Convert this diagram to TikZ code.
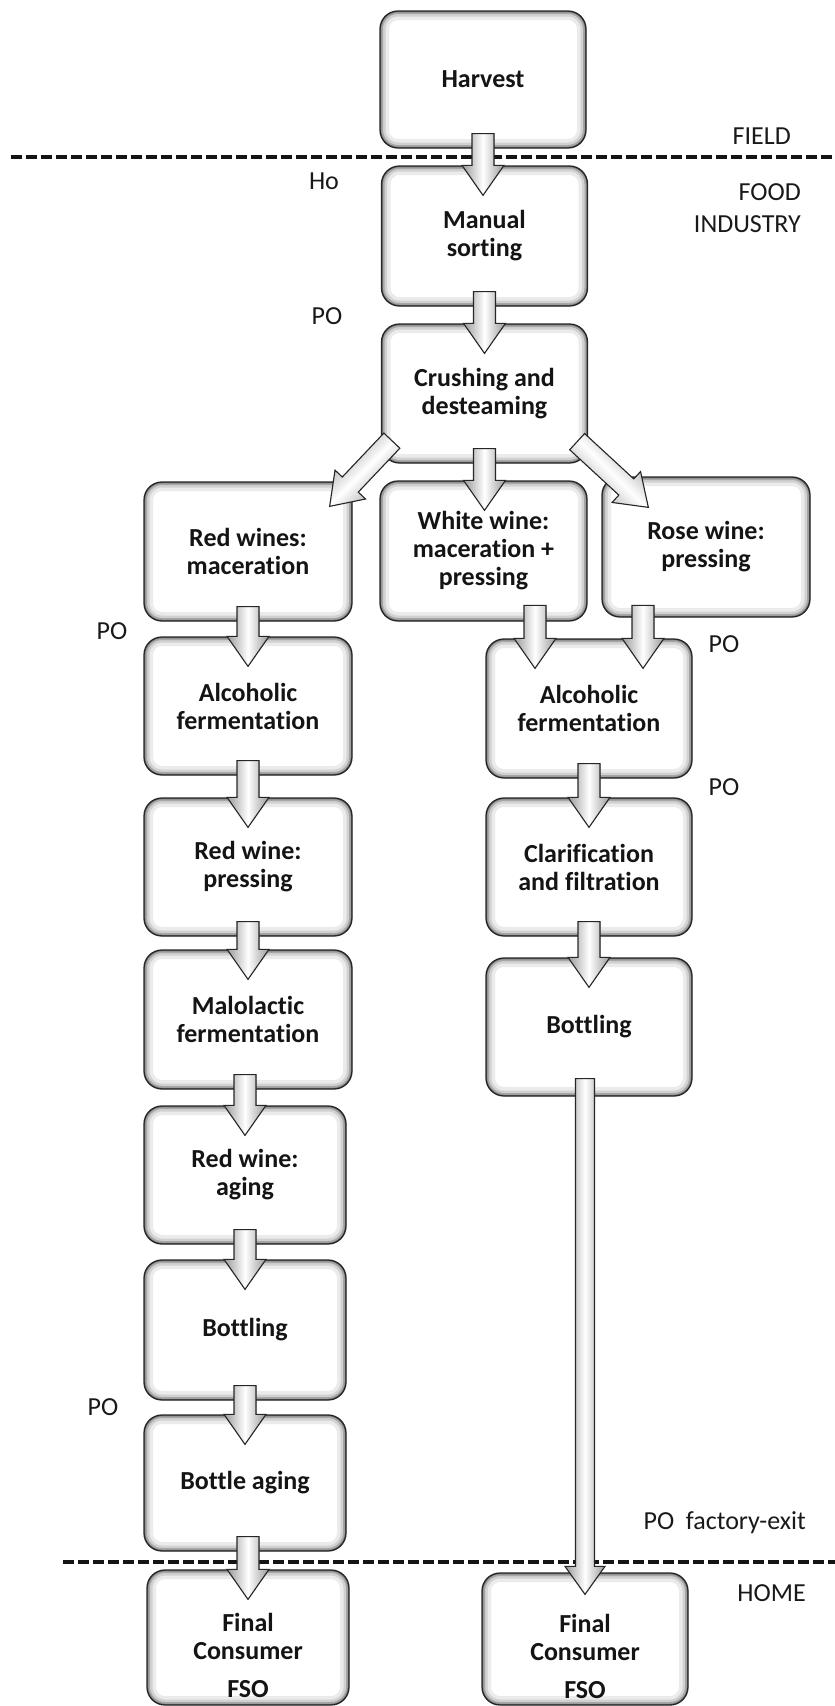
\documentclass[tikz,border=0pt]{standalone}
\usepackage{fontspec}
\setmainfont{Carlito}[Ligatures=NoCommon]
\usetikzlibrary{calc}

% hollow block arrow: #1 extra style, #2 tail point, #3 tip point,
% #4 shaft half width, #5 head half width, #6 head length
\newcommand\blockflow[6]{%
  \path #2 coordinate (bf-t) #3 coordinate (bf-h);
  \coordinate (bf-b) at ($(bf-h)!#6pt!(bf-t)$);
  \filldraw[flow,#1]
    ($(bf-t)!#4pt!90:(bf-h)$) -- ($(bf-b)!#4pt!90:(bf-h)$) --
    ($(bf-b)!#5pt!90:(bf-h)$) -- (bf-h) --
    ($(bf-b)!#5pt!-90:(bf-h)$) -- ($(bf-b)!#4pt!-90:(bf-h)$) --
    ($(bf-t)!#4pt!-90:(bf-h)$) -- cycle;
}
% straight downward arrow from one stage into the next
\newcommand\downflow[3][0]{%
  \blockflow{}{($(#2.south)+(#1,-15)$)}{($(#2.south |- #3.north)+(#1,30)$)}{11}{21}{30}}

\tikzset{
  bevel/.style={draw=#1, rounded corners=18pt},
  stage/.style={rounded corners=18pt, draw=black!85, line width=1.3pt, fill=white,
    minimum width=206pt, minimum height=138pt, inner sep=0pt, align=center,
    font=\fontsize{26}{28}\selectfont\bfseries, text=black!92,
    path picture={
      \draw[bevel=black!8, line width=18pt] (path picture bounding box.south west) rectangle (path picture bounding box.north east);
      \draw[bevel=black!18, line width=11pt] (path picture bounding box.south west) rectangle (path picture bounding box.north east);
      \draw[bevel=black!35, line width=6pt] (path picture bounding box.south west) rectangle (path picture bounding box.north east);
      \draw[bevel=black!55, line width=2.5pt] (path picture bounding box.south west) rectangle (path picture bounding box.north east);
    }},
  stagetext/.style={align=center, inner sep=0pt, font=\fontsize{26}{28}\selectfont\bfseries, text=black!92},
  zone/.style={font=\fontsize{26}{32}\selectfont, text=black!90, inner sep=0pt},
  boundary/.style={line width=3.2pt, dash pattern=on 11pt off 4pt, black!92},
  flow/.style={draw=black!85, line width=1.1pt, left color=black!40, right color=black!40, middle color=white},
}

\begin{document}
\begin{tikzpicture}[x=1pt,y=-1pt]
\useasboundingbox (0,0) rectangle (835,1706);

% zone boundaries
\coordinate (fieldL) at (11,157);
\coordinate (fieldR) at (835,157);
\coordinate (homeL) at (63,1562);
\coordinate (homeR) at (835,1562);
\draw[boundary] (fieldL) -- (fieldR);
\draw[boundary] (homeL) -- (homeR);

% common trunk
\node[stage, minimum height=137pt] (harvest) at (483,79.5) {Harvest};
\node[stage, minimum height=140pt] (manual) at (484.5,236) {Manual\\sorting};
\node[stage, minimum height=139pt] (crush) at (484.5,393.5) {Crushing and\\desteaming};

% three branches
\node[stage, minimum width=208pt, minimum height=139pt] (redmac) at (248,551.5) {Red wines:\\maceration};
\node[stage, minimum width=207pt, minimum height=140pt] (white) at (483.5,551) {White wine:\\maceration +\\pressing};
\node[stage, minimum width=208pt, minimum height=140pt] (rose) at (706,547) {Rose wine:\\pressing};

% red wine line
\node[stage, minimum width=208pt] (alcL) at (248,706) {Alcoholic\\fermentation};
\node[stage, minimum width=208pt] (presL) at (248,867) {Red wine:\\pressing};
\node[stage, minimum width=208pt, minimum height=139pt] (maloL) at (248,1019.5) {Malolactic\\fermentation};
\node[stage, minimum width=202pt] (agingL) at (245,1175) {Red wine:\\aging};
\node[stage, minimum width=202pt, minimum height=140pt] (bottL) at (245,1330) {Bottling};
\node[stage, minimum width=202pt, minimum height=136pt] (bagingL) at (245,1483) {Bottle aging};
\node[stage, minimum width=202pt, minimum height=135pt] (finL) at (248,1637.5) {};
\node[stagetext] (finLtext) at ($(finL.north)+(0,86)$) {Final\\Consumer\\[10pt]FSO};

% white and rose line
\node[stage, minimum height=139pt] (alcR) at (589,708.5) {Alcoholic\\fermentation};
\node[stage] (clarR) at (589,867) {Clarification\\and filtration};
\node[stage] (bottR) at (589,1027) {Bottling};
\node[stage, minimum width=206pt, minimum height=132pt] (finR) at (585,1639) {};
\node[stagetext] (finRtext) at ($(finR.north)+(0,84)$) {Final\\Consumer\\[10pt]FSO};

% zone names and observation points
\node[zone, anchor=east] (field) at (791,136) {FIELD};
\node[zone, anchor=east, align=right] (food) at (801,208) {FOOD\\INDUSTRY};
\node[zone] (ho) at (324,181) {Ho};
\node[zone] (po1) at (327,316) {PO};
\node[zone] (po2) at (112,631) {PO};
\node[zone] (po3) at (724,644) {PO};
\node[zone] (po4) at (724,787) {PO};
\node[zone] (po5) at (103,1407) {PO};
\node[zone, anchor=east] (exit) at (806,1523) {PO\hspace{0.45em}factory-exit};
\node[zone, anchor=east] (home) at (806,1593) {HOME};

% flow arrows
\downflow{harvest}{manual}
\downflow{manual}{crush}
\downflow{crush}{white}
\blockflow{shading angle=45}{($(crush.south west)+(11,-23)$)}{($(redmac.north east)+(-23,25)$)}{11}{21}{30}
\blockflow{shading angle=-45}{($(crush.south east)+(-11,-22)$)}{($(rose.north west)+(47,31)$)}{11}{21}{30}

\downflow{redmac}{alcL}
\downflow{alcL}{presL}
\downflow{presL}{maloL}
\downflow[-3]{maloL}{agingL}
\downflow{agingL}{bottL}
\downflow{bottL}{bagingL}
\downflow[3]{bagingL}{finL}

\blockflow{}{($(alcR.north)+(-54,-33)$)}{($(alcR.north)+(-54,30)$)}{11}{21}{30}
\blockflow{}{($(alcR.north)+(54,-33)$)}{($(alcR.north)+(54,30)$)}{11}{21}{30}
\downflow{alcR}{clarR}
\downflow{clarR}{bottR}
\blockflow{}{($(finR.north |- bottR.south)+(0,-18)$)}{($(finR.north)+(0,22)$)}{9.5}{20}{28}

\end{tikzpicture}
\end{document}
